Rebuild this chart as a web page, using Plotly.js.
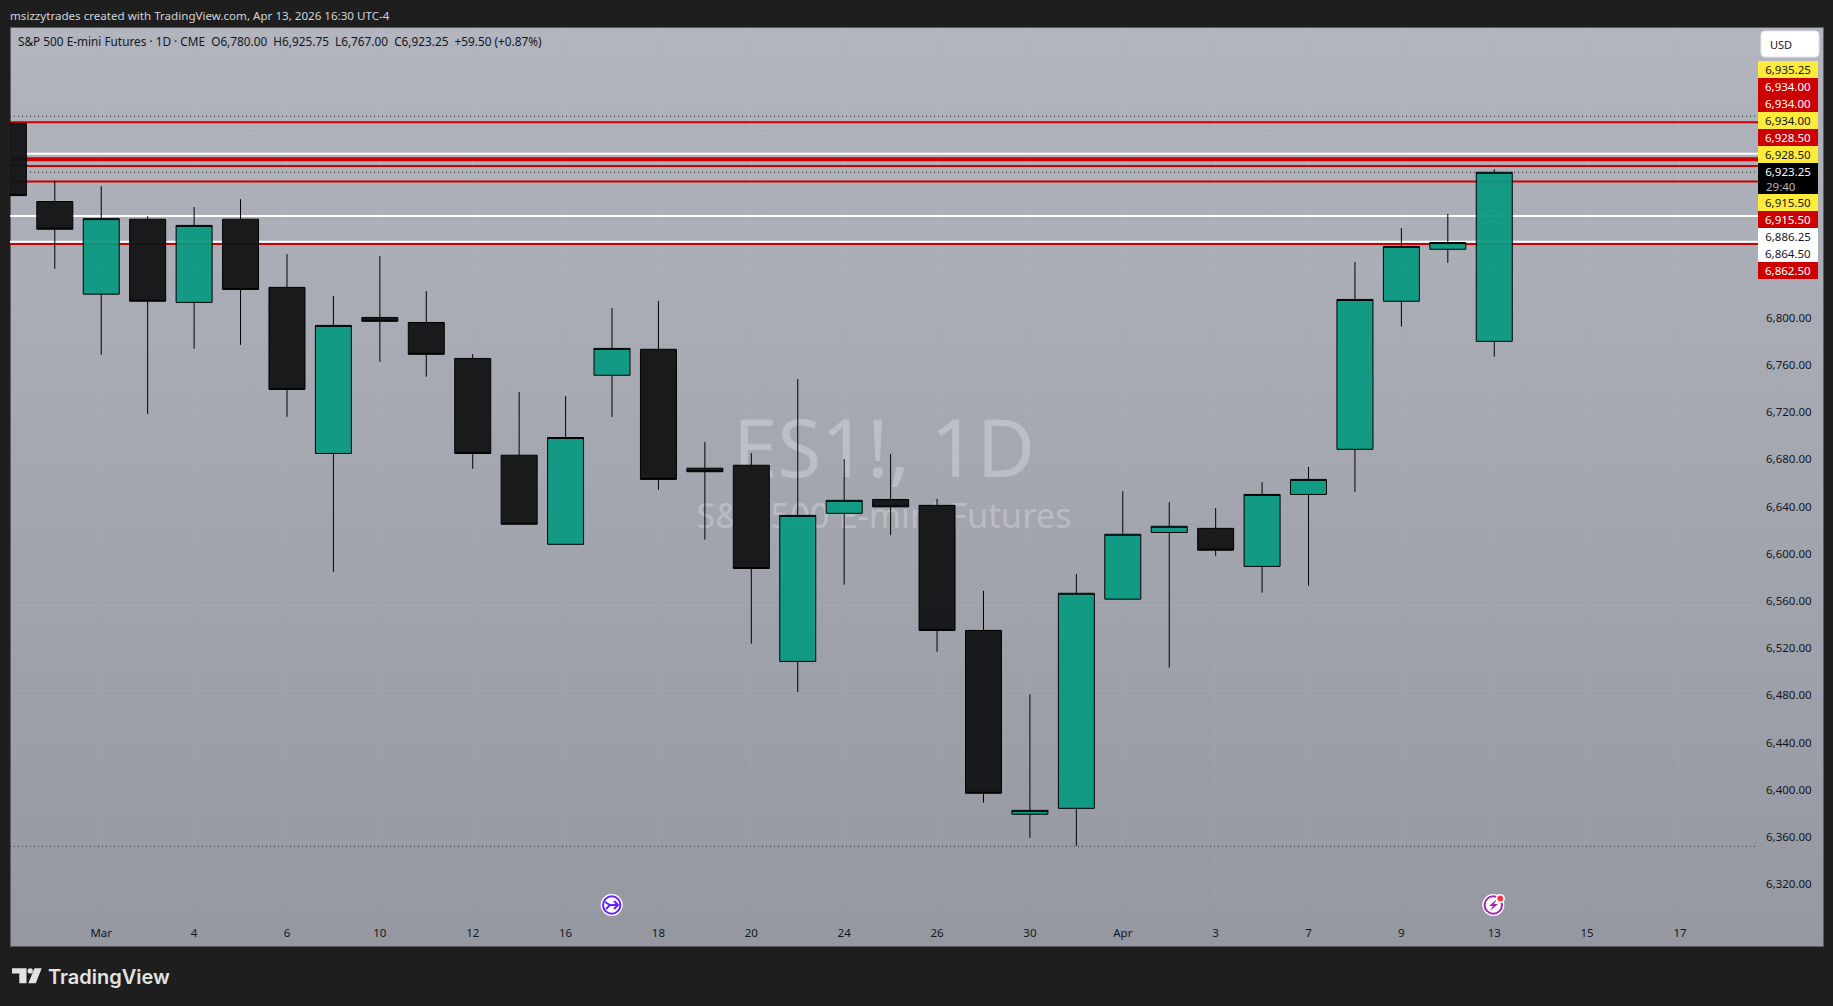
<!DOCTYPE html>
<html>
<head>
<meta charset="utf-8">
<script src="https://cdn.plot.ly/plotly-3.0.1.min.js"></script>
<style>
html,body{margin:0;padding:0;width:1833px;height:1006px;overflow:hidden;background:#1e1e1e}
#pane{position:absolute;left:9.5px;top:26.5px;width:1812.5px;height:918.5px;border:1px solid #5c5d61;background:linear-gradient(180deg,#b2b5be 0%,#9598a1 100%)}
#chart{position:absolute;left:0;top:0;width:1833px;height:1006px}
</style>
</head>
<body>
<div id="pane"></div>
<div id="chart"></div>
<script>
// ---- data ----
const sessions = ['Feb 26','Feb 27','Mar 2','Mar 3','Mar 4','Mar 5','Mar 6','Mar 9','Mar 10','Mar 11','Mar 12','Mar 13','Mar 16','Mar 17','Mar 18','Mar 19','Mar 20','Mar 23','Mar 24','Mar 25','Mar 26','Mar 27','Mar 30','Mar 31','Apr 1','Apr 2','Apr 3','Apr 6','Apr 7','Apr 8','Apr 9','Apr 10','Apr 13'];
const futureSessions = ['Apr 14','Apr 15','Apr 16','Apr 17','Apr 20','Apr 21','Apr 22'];
const opens  = [6964.75,6898.5,6820,6883.5,6813,6883.5,6825.75,6685,6800.25,6796,6765.5,6683.5,6608,6751.25,6773.25,6672.5,6675,6508.75,6634.25,6646,6641,6535,6379.25,6384.25,6561.5,6618,6621.5,6589.25,6650.25,6688.5,6814,6858,6780];
const highs  = [6965,6916,6911.5,6886,6893.75,6900.5,6854,6818.5,6852.25,6822.5,6769.25,6737,6733.5,6808.25,6814.25,6694.75,6685.25,6748,6680.25,6684.5,6646.5,6568.5,6481,6582.75,6653,6643.75,6638.75,6660.75,6673.5,6847.25,6876,6888,6925.75];
const lows   = [6903,6841.5,6768.5,6718.5,6773.75,6777,6716,6584.75,6762.75,6750,6672,6625,6608,6716,6654.25,6612,6523.75,6483,6573.75,6615.75,6517,6389,6359.25,6352.5,6561.5,6503.5,6598.25,6567,6573,6652.5,6792.5,6846.5,6767];
const closes = [6903.5,6875,6884,6814,6878.25,6824,6739.25,6793.5,6797,6769,6685,6625,6698.5,6774,6663,6669.5,6587.5,6632.5,6645.25,6639.75,6535,6397,6382.5,6566.5,6616.5,6623.25,6603,6650.25,6663,6815.5,6860.5,6863.75,6923.25];

const timeTickValues = ['Mar 2','Mar 4','Mar 6','Mar 10','Mar 12','Mar 16','Mar 18','Mar 20','Mar 24','Mar 26','Mar 30','Apr 1','Apr 3','Apr 7','Apr 9','Apr 13','Apr 15','Apr 17'];
const timeTickLabels = ['Mar','4','6','10','12','16','18','20','24','26','30','Apr','3','7','9','13','15','17'];
const priceTickValues = [6320,6360,6400,6440,6480,6520,6560,6600,6640,6680,6720,6760,6800,6840,6880,6920,6960,7000,7040];
const priceTickLabels = ['6,320.00','6,360.00','6,400.00','6,440.00','6,480.00','6,520.00','6,560.00','6,600.00','6,640.00','6,680.00','6,720.00','6,760.00','6,800.00','','','','','',''];

const redLevels = [6965.75,6928.5,6915.5,6862.5];
const thickRedLevels = [6934.25];
const whiteLevels = [6939,6886.25,6864.5];
const dottedLevels = [6970.75,6923.25,6352];

const priceTagTexts  = ['6,935.25','6,934.00','6,934.00','6,934.00','6,928.50','6,928.50','6,915.50','6,915.50','6,886.25','6,864.50','6,862.50'];
const priceTagKinds  = ['y','r','r','y','r','y','y','r','w','w','r'];
const lastPriceText = '6,923.25';
const countdownText = '29:40';

const headerText = 'msizzytrades created with TradingView.com, Apr 13, 2026 16:30 UTC-4';
const legendText = 'S&amp;P 500 E-mini Futures · 1D · CME &nbsp;O6,780.00 &nbsp;H6,925.75 &nbsp;L6,767.00 &nbsp;C6,923.25 &nbsp;+59.50 (+0.87%)';
const watermarkTop = 'ES1!, 1D';
const watermarkBottom = 'S&P 500 E-mini Futures';

// ---- layout helpers (pixel box of the plot area) ----
const L=10,R=1758,T=27,B=918;
const X=p=>(p-L)/(R-L), Y=p=>1-(p-T)/(B-T);
const UI='"Noto Sans", sans-serif';
const path=(pts,close=true)=>pts.map((q,i)=>(i?'L':'M')+X(q[0])+','+Y(q[1])).join(' ')+(close?' Z':'');
const paperShape=o=>Object.assign({xref:'paper',yref:'paper'},o);
const circle=(cx,cy,r,fill,line,lw)=>paperShape({type:'circle',x0:X(cx-r),x1:X(cx+r),y0:Y(cy+r),y1:Y(cy-r),fillcolor:fill,line:{color:line||fill,width:lw||0}});
const poly=(pts,fill)=>paperShape({type:'path',path:path(pts),fillcolor:fill,line:{width:0}});
const stroke=(pts,color,w)=>paperShape({type:'path',path:path(pts,false),fillcolor:'rgba(0,0,0,0)',line:{color:color,width:w}});
const level=(v,color,w,dash,xEnd)=>({type:'line',layer:'below',xref:'paper',yref:'y',x0:0,x1:xEnd||1,y0:v,y1:v,line:{color:color,width:w,dash:dash||'solid'}});

const shapes=[];
// watermark, under the candles
const wm=(text,size,cy)=>paperShape({type:'rect',layer:'below',x0:X(584),x1:X(1184),y0:Y(cy+40),y1:Y(cy-40),fillcolor:'rgba(0,0,0,0)',line:{width:0},
  label:{text:text,textposition:'middle center',font:{size:size,family:UI,color:'rgba(255,255,255,0.27)'}}});
shapes.push(wm(watermarkTop,80,451),wm(watermarkBottom,34.5,517));
whiteLevels.forEach(v=>shapes.push(level(v,'#ffffff',2)));
redLevels.forEach(v=>shapes.push(level(v,'#cc0000',2)));
thickRedLevels.forEach(v=>shapes.push(level(v,'#cc0000',4)));
dottedLevels.forEach(v=>shapes.push(level(v,'#2a2b30',1,'1px,3px')));

// USD button
const bx0=1761,bx1=1819,by0=31,by1=57,rr=4;
shapes.push(paperShape({type:'path',fillcolor:'#ffffff',line:{color:'#e6e7ea',width:1},
 path:`M${X(bx0+rr)},${Y(by0)} L${X(bx1-rr)},${Y(by0)} Q${X(bx1)},${Y(by0)} ${X(bx1)},${Y(by0+rr)} L${X(bx1)},${Y(by1-rr)} Q${X(bx1)},${Y(by1)} ${X(bx1-rr)},${Y(by1)} L${X(bx0+rr)},${Y(by1)} Q${X(bx0)},${Y(by1)} ${X(bx0)},${Y(by1-rr)} L${X(bx0)},${Y(by0+rr)} Q${X(bx0)},${Y(by0)} ${X(bx0+rr)},${Y(by0)} Z`}));

// event badges
shapes.push(circle(611.7,905,11,'#ffffff'));
shapes.push(circle(611.7,905,8.7,'rgba(0,0,0,0)','#651fff',2));
shapes.push(stroke([[605,902],[610,905],[618,905]],'#651fff',2));
shapes.push(stroke([[614,901],[618,905],[614,909]],'#651fff',2));
shapes.push(stroke([[606,909],[610,905]],'#651fff',2));
shapes.push(circle(1493.3,905,11,'#ffffff'));
shapes.push(circle(1493.3,905,8.7,'rgba(0,0,0,0)','#9c27b0',2));
shapes.push(poly([[1497,899],[1489,906],[1493,906],[1490,911],[1498,904],[1494,904]],'#9c27b0'));
shapes.push(circle(1500.3,898.5,4.6,'#ffffff'));
shapes.push(circle(1500.3,898.5,2.9,'#f23645'));

// logo mark
shapes.push(poly([[12,968.3],[26.5,968.3],[26.5,983.3],[19.3,983.3],[19.3,973.6],[12,973.6]],'#e3e3e3'));
shapes.push(circle(30.2,970.9,2.7,'#e3e3e3'));
shapes.push(poly([[34.5,968.3],[41.7,968.3],[35.8,983.3],[28.3,983.3]],'#e3e3e3'));

// ---- annotations ----
const annotations=[];
const note=(text,px,py,o)=>annotations.push(Object.assign({xref:'paper',yref:'paper',x:X(px),y:Y(py),text:text,showarrow:false,xanchor:'left',yanchor:'middle',
  font:{family:UI,size:11.7,color:'#131722'},borderpad:0,borderwidth:0},o||{}));
note(headerText,10,15.5,{font:{family:UI,size:11.6,color:'#d1d4dc'}});
note(legendText,18,41.5,{font:{family:UI,size:11.8,color:'#131722'}});
note('USD',1770,44,{font:{family:UI,size:11,color:'#131722'}});
note('TradingView',48,977,{font:{family:'Inter, sans-serif',size:20,weight:600,color:'#e3e3e3'}});

const tagStyle={y:{bg:'#ffeb3b',fg:'#131722'},r:{bg:'#cc0000',fg:'#ffffff'},w:{bg:'#ffffff',fg:'#131722'}};
const rowTop=61.3,rowH=17,tagFont=11.5;
priceTagTexts.forEach((t,i)=>{
  // the black last-price tag sits between the 6th and 7th rows and is taller
  const top=rowTop+rowH*i+(i>=6?31:0);
  const s=tagStyle[priceTagKinds[i]];
  note(t,1758,top,{yanchor:'top',width:60,height:rowH,align:'center',bgcolor:s.bg,font:{family:UI,size:tagFont,color:s.fg}});
});
const lastTop=rowTop+rowH*6;
note(lastPriceText,1758,lastTop,{yanchor:'top',width:60,height:17,align:'center',bgcolor:'#000000',font:{family:UI,size:tagFont,color:'#ffffff'}});
note('',1758,lastTop+17,{yanchor:'top',width:60,height:14,bgcolor:'#000000'});
note(countdownText,1766,lastTop+23.5,{font:{family:UI,size:tagFont,color:'#b8b8b8'}});

const candle={type:'candlestick',x:sessions,open:opens,high:highs,low:lows,close:closes,
  whiskerwidth:0,hoverinfo:'skip',showlegend:false,
  increasing:{line:{color:'#000000',width:1},fillcolor:'rgba(8,153,129,0.93)'},
  decreasing:{line:{color:'#000000',width:1},fillcolor:'rgba(19,20,22,0.96)'}};

const layout={
  width:1833,height:1006,autosize:false,showlegend:false,hovermode:false,dragmode:false,
  margin:{l:L,r:1833-R,t:T,b:1006-B,pad:0},
  paper_bgcolor:'rgba(0,0,0,0)',plot_bgcolor:'rgba(0,0,0,0)',
  boxgap:0.225,boxgroupgap:0,
  font:{family:UI,size:11,color:'#131722'},
  xaxis:{type:'category',categoryorder:'array',categoryarray:sessions.concat(futureSessions),
    range:[0.035,37.68],rangeslider:{visible:false},tickmode:'array',tickvals:timeTickValues,ticktext:timeTickLabels,
    ticks:'',ticklen:0,ticklabelstandoff:6,showgrid:true,gridcolor:'rgba(255,255,255,0.045)',gridwidth:1,zeroline:false,showline:false,
    tickfont:{family:UI,size:11.5,color:'#131722'}},
  yaxis:{side:'right',range:[6291.3,7046.4],tickmode:'array',tickvals:priceTickValues,ticktext:priceTickLabels,
    ticks:'',ticklen:0,ticklabelstandoff:7,showgrid:true,gridcolor:'rgba(255,255,255,0.045)',gridwidth:1,zeroline:false,showline:false,
    tickfont:{family:UI,size:11.5,color:'#131722'}},
  shapes:shapes,annotations:annotations
};
Plotly.newPlot('chart',[candle],layout,{displayModeBar:false,staticPlot:true,responsive:false});
</script>
</body>
</html>
